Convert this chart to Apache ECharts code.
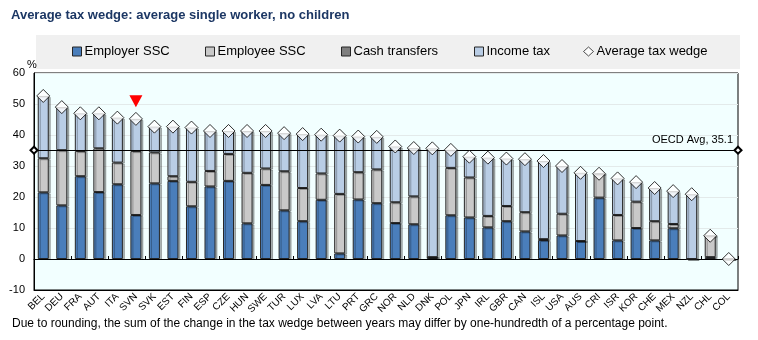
<!DOCTYPE html>
<html>
<head>
<meta charset="utf-8">
<script src="https://cdn.jsdelivr.net/npm/echarts@6/dist/echarts.min.js"></script>
<style>
html,body{margin:0;padding:0;background:#fff;}
#chart{width:758px;height:340px;}
</style>
</head>
<body>
<div id="chart"></div>
<script>
const categories = ['BEL','DEU','FRA','AUT','ITA','SVN','SVK','EST','FIN','ESP','CZE','HUN','SWE','TUR','LUX','LVA','LTU','PRT','GRC','NOR','NLD','DNK','POL','JPN','IRL','GBR','CAN','ISL','USA','AUS','CRI','ISR','KOR','CHE','MEX','NZL','CHL','COL'];
const employerSSC = [21.5,17.3,26.7,21.6,24.1,14.2,24.4,25.2,17.0,23.4,25.2,11.5,23.9,15.7,12.2,19.1,1.8,19.2,18.0,11.6,11.2,0.6,14.1,13.4,10.2,12.2,8.9,6.1,7.6,5.8,19.8,6.0,10.0,6.0,9.9,0,0.6,0];
const employeeSSC = [11.0,17.8,8.1,14.1,7.0,20.6,10.0,1.5,7.9,5.0,8.7,16.3,5.3,12.6,10.7,8.5,19.2,8.8,10.9,6.7,9.0,0,15.3,12.9,3.7,4.9,6.2,0.3,7.0,0,7.7,8.2,8.5,6.2,1.4,0,6.9,0];
const cashTransfers = [0,0,0,0,0,0,0,0,0,0,0,0,0,0,0,0,0,0,0,0,0,0,0,0,0,0,0,0,0,0,0,0,0,0,0,0,0,0];
const incomeTax = [20.1,13.9,12.2,11.3,14.5,10.4,8.3,16.0,17.5,12.9,7.4,13.5,12.1,12.3,17.4,12.5,18.8,11.5,10.5,18.0,15.6,35.1,5.8,6.7,18.8,15.3,17.1,25.2,15.4,22.0,0,11.8,6.3,10.7,10.6,20.9,0,0];
const avgTaxWedge = [52.6,49.0,47.0,47.0,45.6,45.2,42.7,42.7,42.4,41.3,41.3,41.3,41.3,40.6,40.3,40.1,39.8,39.5,39.4,36.3,35.8,35.7,35.2,33.0,32.7,32.4,32.2,31.6,30.0,27.8,27.5,26.0,24.8,22.9,21.9,20.9,7.5,0];
const oecdAvg = 35.1;
const highlightCountry = 'SVN';
const highlightMarkerLevel = 50.9;
const yMin = -10, yMax = 60, yInterval = 10;

const FONT = 'Liberation Sans, Arial, sans-serif';
const chart = echarts.init(document.getElementById('chart'), null, {renderer:'canvas'});

const barStyle = (color) => ({
  color: color,
  borderColor: '#262626',
  borderWidth: 1,
  shadowColor: 'rgba(0,0,0,0.28)',
  shadowOffsetX: 2,
  shadowOffsetY: 1,
  shadowBlur: 0
});

function legendAt(name, left, icon, w) {
  return {
    data: [name], left: left, top: 45, padding: 0,
    itemWidth: w || 9, itemHeight: 9, itemGap: 0,
    icon: icon || 'rect', selectedMode: false,
    itemStyle: {borderColor: '#262626', borderWidth: 1, shadowColor: 'transparent'},
    textStyle: {fontSize: 13, color: '#000', fontFamily: FONT, padding: [0,0,0,-2]}
  };
}

chart.setOption({
  animation: false,
  textStyle: {fontFamily: FONT},
  title: {
    text: 'Average tax wedge: average single worker, no children',
    left: 11, top: 9, padding: 0,
    textStyle: {fontSize: 13, fontWeight: 'bold', color: '#1c3764', fontFamily: FONT}
  },
  graphic: [
    {type: 'rect', left: 36, top: 35, shape: {width: 704, height: 34}, style: {fill: '#f0f0f0'}, z: -10},
    {type: 'text', left: 27, top: 59, style: {text: '%', fontSize: 11, fill: '#000', fontFamily: FONT}},
    {type: 'text', left: 12, top: 318, style: {text: 'Due to rounding, the sum of the change in the tax wedge between years may differ by one-hundredth of a percentage point.', fontSize: 12, fill: '#000', fontFamily: FONT}}
  ],
  legend: [
    legendAt('Employer SSC', 72),
    legendAt('Employee SSC', 205),
    legendAt('Cash transfers', 341),
    legendAt('Income tax', 474),
    legendAt('Average tax wedge', 583, 'diamond', 10)
  ],
  grid: {
    left: 34, right: 20, top: 73, bottom: 50,
    show: true, backgroundColor: '#f2ffff', borderColor: '#000', borderWidth: 1
  },
  xAxis: [
    {
      type: 'category', data: categories, position: 'bottom',
      axisLine: {onZero: false, lineStyle: {color: '#000'}},
      axisTick: {show: false},
      axisLabel: {rotate: 45, fontSize: 10, color: '#000', margin: 5, interval: 0, fontFamily: FONT}
    },
    {
      type: 'category', data: categories, position: 'top',
      axisLine: {onZero: true, lineStyle: {color: '#000', width: 1}},
      axisTick: {show: true, length: 3, lineStyle: {color: '#000'}},
      axisLabel: {show: false}
    }
  ],
  yAxis: {
    type: 'value', min: yMin, max: yMax, interval: yInterval,
    axisLine: {show: true, lineStyle: {color: '#000'}},
    axisTick: {show: false},
    axisLabel: {fontSize: 11, color: '#000', margin: 9, fontFamily: FONT},
    splitLine: {show: true, lineStyle: {color: '#e3eaea', width: 1}}
  },
  series: [
    {name: 'Employer SSC', type: 'bar', stack: 'tw', barWidth: 11, data: employerSSC, itemStyle: barStyle('#4a7ebb')},
    {name: 'Employee SSC', type: 'bar', stack: 'tw', barWidth: 11, data: employeeSSC, itemStyle: barStyle('#c9c9c9')},
    {name: 'Cash transfers', type: 'bar', stack: 'tw', barWidth: 11, data: cashTransfers, itemStyle: {color: '#7f7f7f', borderColor: '#262626', borderWidth: 0}},
    {name: 'Income tax', type: 'bar', stack: 'tw', barWidth: 11, data: incomeTax, itemStyle: barStyle('#b9cde5')},
    {
      name: 'Average tax wedge', type: 'scatter', data: avgTaxWedge, z: 5,
      symbol: 'diamond', symbolSize: 13,
      itemStyle: {color: '#fff', borderColor: '#000', borderWidth: 1},
      markLine: {
        silent: true, symbol: ['emptyDiamond', 'emptyDiamond'], symbolSize: 7,
        lineStyle: {color: '#000', width: 1, type: 'solid'},
        label: {show: true, position: 'insideEndTop', formatter: 'OECD Avg, ' + oecdAvg, fontSize: 11, color: '#000', fontFamily: FONT, distance: [5, 5]},
        data: [{yAxis: oecdAvg}]
      },
      markPoint: {
        silent: true,
        data: [{coord: [highlightCountry, highlightMarkerLevel], symbol: 'triangle', symbolRotate: 180, symbolSize: [13, 12], itemStyle: {color: '#ff0000', borderWidth: 0}}],
        label: {show: false}
      }
    }
  ]
});
</script>
</body>
</html>
